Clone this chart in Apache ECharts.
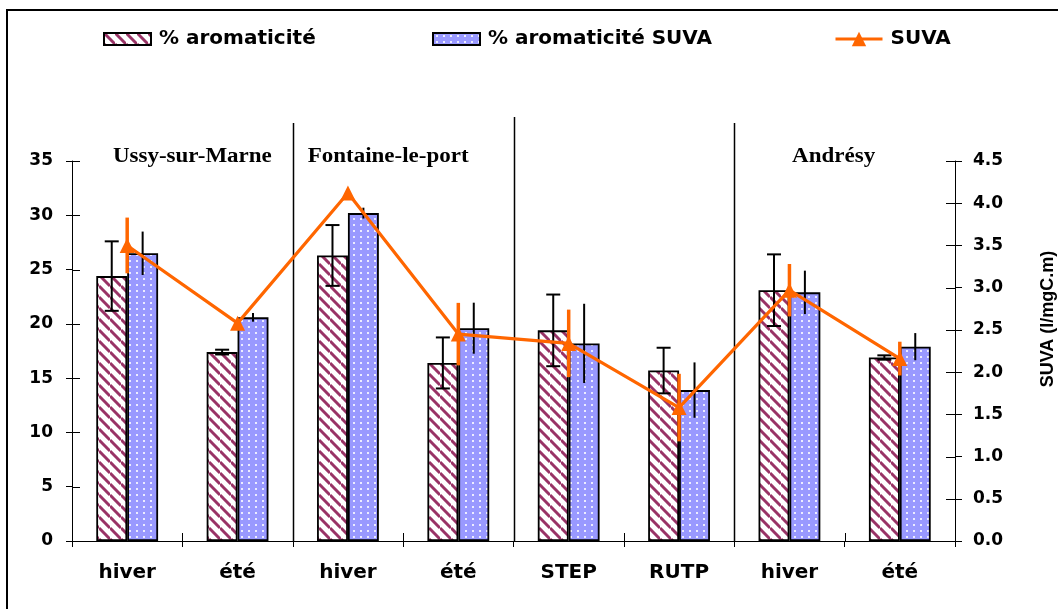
<!DOCTYPE html>
<html>
<head>
<meta charset="utf-8">
<script src="https://cdn.jsdelivr.net/npm/echarts/dist/echarts.min.js"></script>
<style>
  html, body { margin: 0; padding: 0; background: #ffffff; }
  #chart { width: 1058px; height: 609px; }
</style>
</head>
<body>
<div id="chart"></div>
<script>
// Sampling campaigns (grouped by site)
const categories = ['hiver', 'été', 'hiver', 'été', 'STEP', 'RUTP', 'hiver', 'été'];
const siteNames = ['Ussy-sur-Marne', 'Fontaine-le-port', 'Andrésy'];

// % aromaticité (left axis) and its spread
const aromaticite = [24.4, 17.4, 26.3, 16.4, 19.4, 15.7, 23.1, 16.9];
const aromaticiteErr = [3.2, 0.22, 2.8, 2.35, 3.3, 2.1, 3.3, 0.2];

// % aromaticité estimated from SUVA (left axis) and its spread
const aromaticiteSuva = [26.5, 20.6, 30.2, 19.6, 18.2, 13.9, 22.9, 17.9];
const aromaticiteSuvaErr = [2.0, 0.4, 0.5, 2.35, 3.65, 2.55, 2.0, 1.25];

// SUVA in l/mgC.m (right axis) and its spread
const suva = [3.5, 2.58, 4.12, 2.45, 2.34, 1.58, 2.97, 2.16];
const suvaErr = [0.33, 0.04, 0.04, 0.37, 0.4, 0.4, 0.31, 0.2];

const leftTicks = { min: 0, max: 35, interval: 5 };
const rightTicks = { min: 0, max: 4.5, interval: 0.5 };

// Fill patterns: diagonal maroon hatching and white dots on lavender
function hatchPattern() {
  const p = 11, c = document.createElement('canvas');
  c.width = p; c.height = p;
  const g = c.getContext('2d');
  g.fillStyle = '#ffffff'; g.fillRect(0, 0, p, p);
  g.strokeStyle = '#993366'; g.lineWidth = 3;
  for (const o of [-p, 0, p]) {
    g.beginPath(); g.moveTo(0, o); g.lineTo(p, o + p); g.stroke();
  }
  return c;
}
function dotPattern() {
  const w = 7, h = 6, c = document.createElement('canvas');
  c.width = w; c.height = h;
  const g = c.getContext('2d');
  g.fillStyle = '#9999ff'; g.fillRect(0, 0, w, h);
  g.fillStyle = '#ececff'; g.fillRect(3, 2, 2, 2);
  return c;
}

const BAR_W = 0.28;   // bar width as a fraction of the category band
const sansBold = '"DejaVu Sans"';

function errorBars(name, values, errors, shift, cap, color, width, yAxisIndex, z) {
  return {
    name, type: 'custom', yAxisIndex, z, silent: true,
    encode: { x: 0, y: [1, 2] },
    data: values.map((v, i) => [i, v - errors[i], v + errors[i]]),
    renderItem(params, api) {
      const i = api.value(0);
      const lo = api.coord([i, api.value(1)]);
      const hi = api.coord([i, api.value(2)]);
      const band = api.size([1, 0])[0];
      const x = lo[0] + shift * band;
      const style = { stroke: color, lineWidth: width };
      const children = [{ type: 'line', shape: { x1: x, y1: lo[1], x2: x, y2: hi[1] }, style }];
      if (cap) {
        children.push({ type: 'line', shape: { x1: x - cap, y1: lo[1], x2: x + cap, y2: lo[1] }, style });
        children.push({ type: 'line', shape: { x1: x - cap, y1: hi[1], x2: x + cap, y2: hi[1] }, style });
      }
      return { type: 'group', children };
    }
  };
}

const chart = echarts.init(document.getElementById('chart'), null, { renderer: 'canvas' });

const axisText = { color: '#000', fontFamily: sansBold, fontWeight: 'bold' };
const legendText = { ...axisText, fontSize: 20, padding: [0, 0, 0, 3] };
function legendAt(name, left, icon, itemHeight) {
  return {
    data: [icon ? { name, icon } : name], left, top: 29, padding: 0,
    itemWidth: 47, itemHeight, textStyle: legendText,
    lineStyle: { width: 3 }
  };
}

const option = {
  animation: false,
  backgroundColor: '#ffffff',
  grid: { left: 72, right: 103, top: 161, bottom: 68 },
  legend: [
    legendAt('% aromaticité', 103, 'rect', 12),
    legendAt('% aromaticité SUVA', 432, 'rect', 12),
    legendAt('SUVA', 834, null, 18)
  ],
  xAxis: {
    type: 'category', data: categories, boundaryGap: true,
    axisLine: { lineStyle: { color: '#000', width: 1 } },
    axisTick: { show: true, length: 6, lineStyle: { color: '#000' } },
    axisLabel: { ...axisText, fontSize: 20, margin: 22 },
    splitLine: { show: false }
  },
  yAxis: [
    {
      type: 'value', position: 'left', ...leftTicks,
      axisLine: { show: true, lineStyle: { color: '#000' } },
      axisTick: { show: true, length: 6, lineStyle: { color: '#000' } },
      axisLabel: { ...axisText, fontSize: 17, margin: 19 },
      splitLine: { show: false }
    },
    {
      type: 'value', position: 'right', ...rightTicks,
      axisLine: { show: true, lineStyle: { color: '#000' } },
      axisTick: { show: true, length: 7, lineStyle: { color: '#000' } },
      axisLabel: { ...axisText, fontSize: 17, margin: 18, formatter: v => v.toFixed(1) },
      splitLine: { show: false }
    }
  ],
  series: [
    {
      name: '% aromaticité', type: 'bar', yAxisIndex: 0,
      data: aromaticite, barWidth: (BAR_W * 100) + '%', barGap: '0%',
      itemStyle: { color: { image: hatchPattern(), repeat: 'repeat' }, borderColor: '#000', borderWidth: 1.8 }
    },
    {
      name: '% aromaticité SUVA', type: 'bar', yAxisIndex: 0,
      data: aromaticiteSuva, barWidth: (BAR_W * 100) + '%', barGap: '0%',
      itemStyle: { color: { image: dotPattern(), repeat: 'repeat' }, borderColor: '#000', borderWidth: 1.8 }
    },
    errorBars('err aromaticité', aromaticite, aromaticiteErr, -BAR_W / 2, 7, '#000', 2, 0, 3),
    errorBars('err aromaticité SUVA', aromaticiteSuva, aromaticiteSuvaErr, BAR_W / 2, 0, '#000', 2, 0, 3),
    {
      name: 'SUVA', type: 'line', yAxisIndex: 1, z: 4,
      data: suva,
      symbol: 'triangle', symbolSize: 15,
      lineStyle: { color: '#ff6600', width: 3.2 },
      itemStyle: { color: '#ff6600' }
    },
    errorBars('err SUVA', suva, suvaErr, 0, 0, '#ff6600', 3.5, 1, 5)
  ]
};

chart.setOption(option);

// Site separators, site names, inner tick marks, frame and right-axis title
const cx = i => chart.convertToPixel({ xAxisIndex: 0 }, i);
const cyL = v => chart.convertToPixel({ yAxisIndex: 0 }, v);
const cyR = v => chart.convertToPixel({ yAxisIndex: 1 }, v);
const boundary = i => (cx(i - 1) + cx(i)) / 2;
const band = cx(1) - cx(0);
const edge = i => cx(0) - band / 2 + i * band;
const y0 = cyL(0);
const xLeft = edge(0), xRight = edge(categories.length);

const separators = [[2, 38.5], [4, 39.05], [6, 38.5]].map(([i, top]) => ({
  type: 'line', silent: true,
  shape: { x1: Math.round(boundary(i)) + 0.5, y1: cyL(top), x2: Math.round(boundary(i)) + 0.5, y2: y0 },
  style: { stroke: '#000', lineWidth: 1.5 }
}));

const siteSpots = [[0, 2, 10], [2, 4, -15], [6, 8, -11]];
const siteLabels = siteNames.map((name, k) => {
  const [a, b, dx] = siteSpots[k];
  const x = (edge(a) + edge(b)) / 2 + dx;
  return {
    type: 'text', silent: true,
    x, y: 157, scaleX: 1.15, scaleY: 1, originX: 0, originY: 0,
    style: {
      text: name, align: 'center', verticalAlign: 'middle',
      font: 'bold 20px "Liberation Serif"', fill: '#000'
    }
  };
});

const tickStyle = { stroke: '#000', lineWidth: 1 };
const innerTicks = [];
for (let v = leftTicks.min; v <= leftTicks.max; v += leftTicks.interval) {
  const y = Math.round(cyL(v)) + 0.5;
  innerTicks.push({ type: 'line', silent: true, shape: { x1: xLeft, y1: y, x2: xLeft + 8, y2: y }, style: tickStyle });
}
for (let k = 0; k <= 9; k++) {
  const y = Math.round(cyR(rightTicks.min + k * rightTicks.interval)) + 0.5;
  innerTicks.push({ type: 'line', silent: true, shape: { x1: xRight - 9, y1: y, x2: xRight, y2: y }, style: tickStyle });
}
for (let i = 0; i <= categories.length; i++) {
  const x = Math.round(edge(i)) + 0.5;
  innerTicks.push({ type: 'line', silent: true, shape: { x1: x, y1: y0 - 8, x2: x, y2: y0 }, style: tickStyle });
}

chart.setOption({
  graphic: [
    { type: 'rect', silent: true, shape: { x: 7, y: 10, width: 1200, height: 800 }, style: { fill: 'none', stroke: '#000', lineWidth: 2 } },
    ...separators,
    ...innerTicks,
    ...siteLabels,
    {
      type: 'text', silent: true, x: 1048, y: 319, rotation: Math.PI / 2,
      style: {
        text: 'SUVA (l/mgC.m)', align: 'center', verticalAlign: 'middle',
        font: 'bold 18px "Liberation Sans"', fill: '#000'
      }
    }
  ]
});
</script>
</body>
</html>
